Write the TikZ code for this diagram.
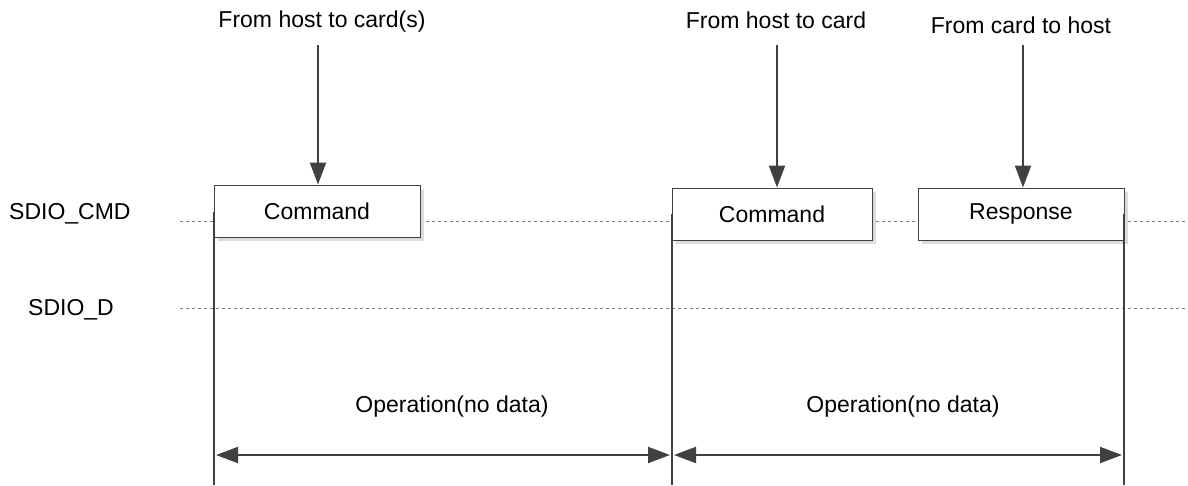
\documentclass[tikz,border=0pt]{standalone}
\usepackage{fontspec}
\setmainfont{Liberation Sans}
\usetikzlibrary{arrows.meta}
\definecolor{linegray}{HTML}{404040}
\definecolor{shadowgray}{HTML}{DCDCDC}

\begin{document}
\begin{tikzpicture}[x=1pt, y=-1pt, font=\fontsize{23}{27}\selectfont,
    frame/.style={draw=linegray, line width=1pt, fill=white, minimum width=206pt, minimum height=52pt, inner sep=0pt},
    bus/.style={draw=gray, dashed, line width=0.8pt},
    marker/.style={draw=linegray, line width=2pt},
    push/.style={draw=linegray, line width=2pt, -{Triangle[length=22pt, width=16pt]}},
    span/.style={draw=linegray, line width=2pt, {Triangle[length=22pt, width=16pt]}-{Triangle[length=22pt, width=16pt]}}]
    \useasboundingbox (0,0) rectangle (1188,485);
    % signal names and lines
    \node[anchor=base west, inner sep=0pt] (cmd) at (9,219) {SDIO\_CMD};
    \node[anchor=base west, inner sep=0pt] (dat) at (28,315) {SDIO\_D};
    \coordinate (c0) at (180,221);
    \coordinate (c1) at (1188,221);
    \coordinate (d0) at (180,308);
    \coordinate (d1) at (1188,308);
        \draw[bus] (c0) -- (c1);
        \draw[bus] (d0) -- (d1);
    % shadows
    \fill[shadowgray] (218,189) rectangle (424,241);
    \fill[shadowgray] (676,192) rectangle (876,244);
    \fill[shadowgray] (922,192) rectangle (1128,244);
    % tokens
    \node[frame] (b1) at (317,211) {Command};
    \node[frame, minimum width=200pt] (b2) at (772,214) {Command};
    \node[frame] (b3) at (1021,214) {Response};
    % vertical markers
    \coordinate (v1) at (214,212);
    \coordinate (v2) at (672,214);
    \coordinate (v3) at (1124,214);
    \coordinate (w1) at (214,485);
    \coordinate (w2) at (672,485);
    \coordinate (w3) at (1124,485);
        \draw[marker] (v1) -- (w1);
        \draw[marker] (v2) -- (w2);
        \draw[marker] (v3) -- (w3);
    % directions
    \node (t1) at (322,22) {From host to card(s)};
    \node (t2) at (776,20) {From host to card};
    \node (t3) at (1021,25) {From card to host};
    \coordinate (s1) at (318,45);
    \coordinate (s2) at (777,45);
    \coordinate (s3) at (1023,45);
        \draw[push] (s1) -- (b1.north -| s1);
        \draw[push] (s2) -- (b2.north -| s2);
        \draw[push] (s3) -- (b3.north -| s3);
    % operations
    \node (o1) at (452,407) {Operation(no data)};
    \node (o2) at (903,407) {Operation(no data)};
    \coordinate (a1) at (216,455);
    \coordinate (a2) at (670,455);
    \coordinate (a3) at (674,455);
    \coordinate (a4) at (1122,455);
        \draw[span] (a1) -- (a2);
        \draw[span] (a3) -- (a4);
\end{tikzpicture}
\end{document}
